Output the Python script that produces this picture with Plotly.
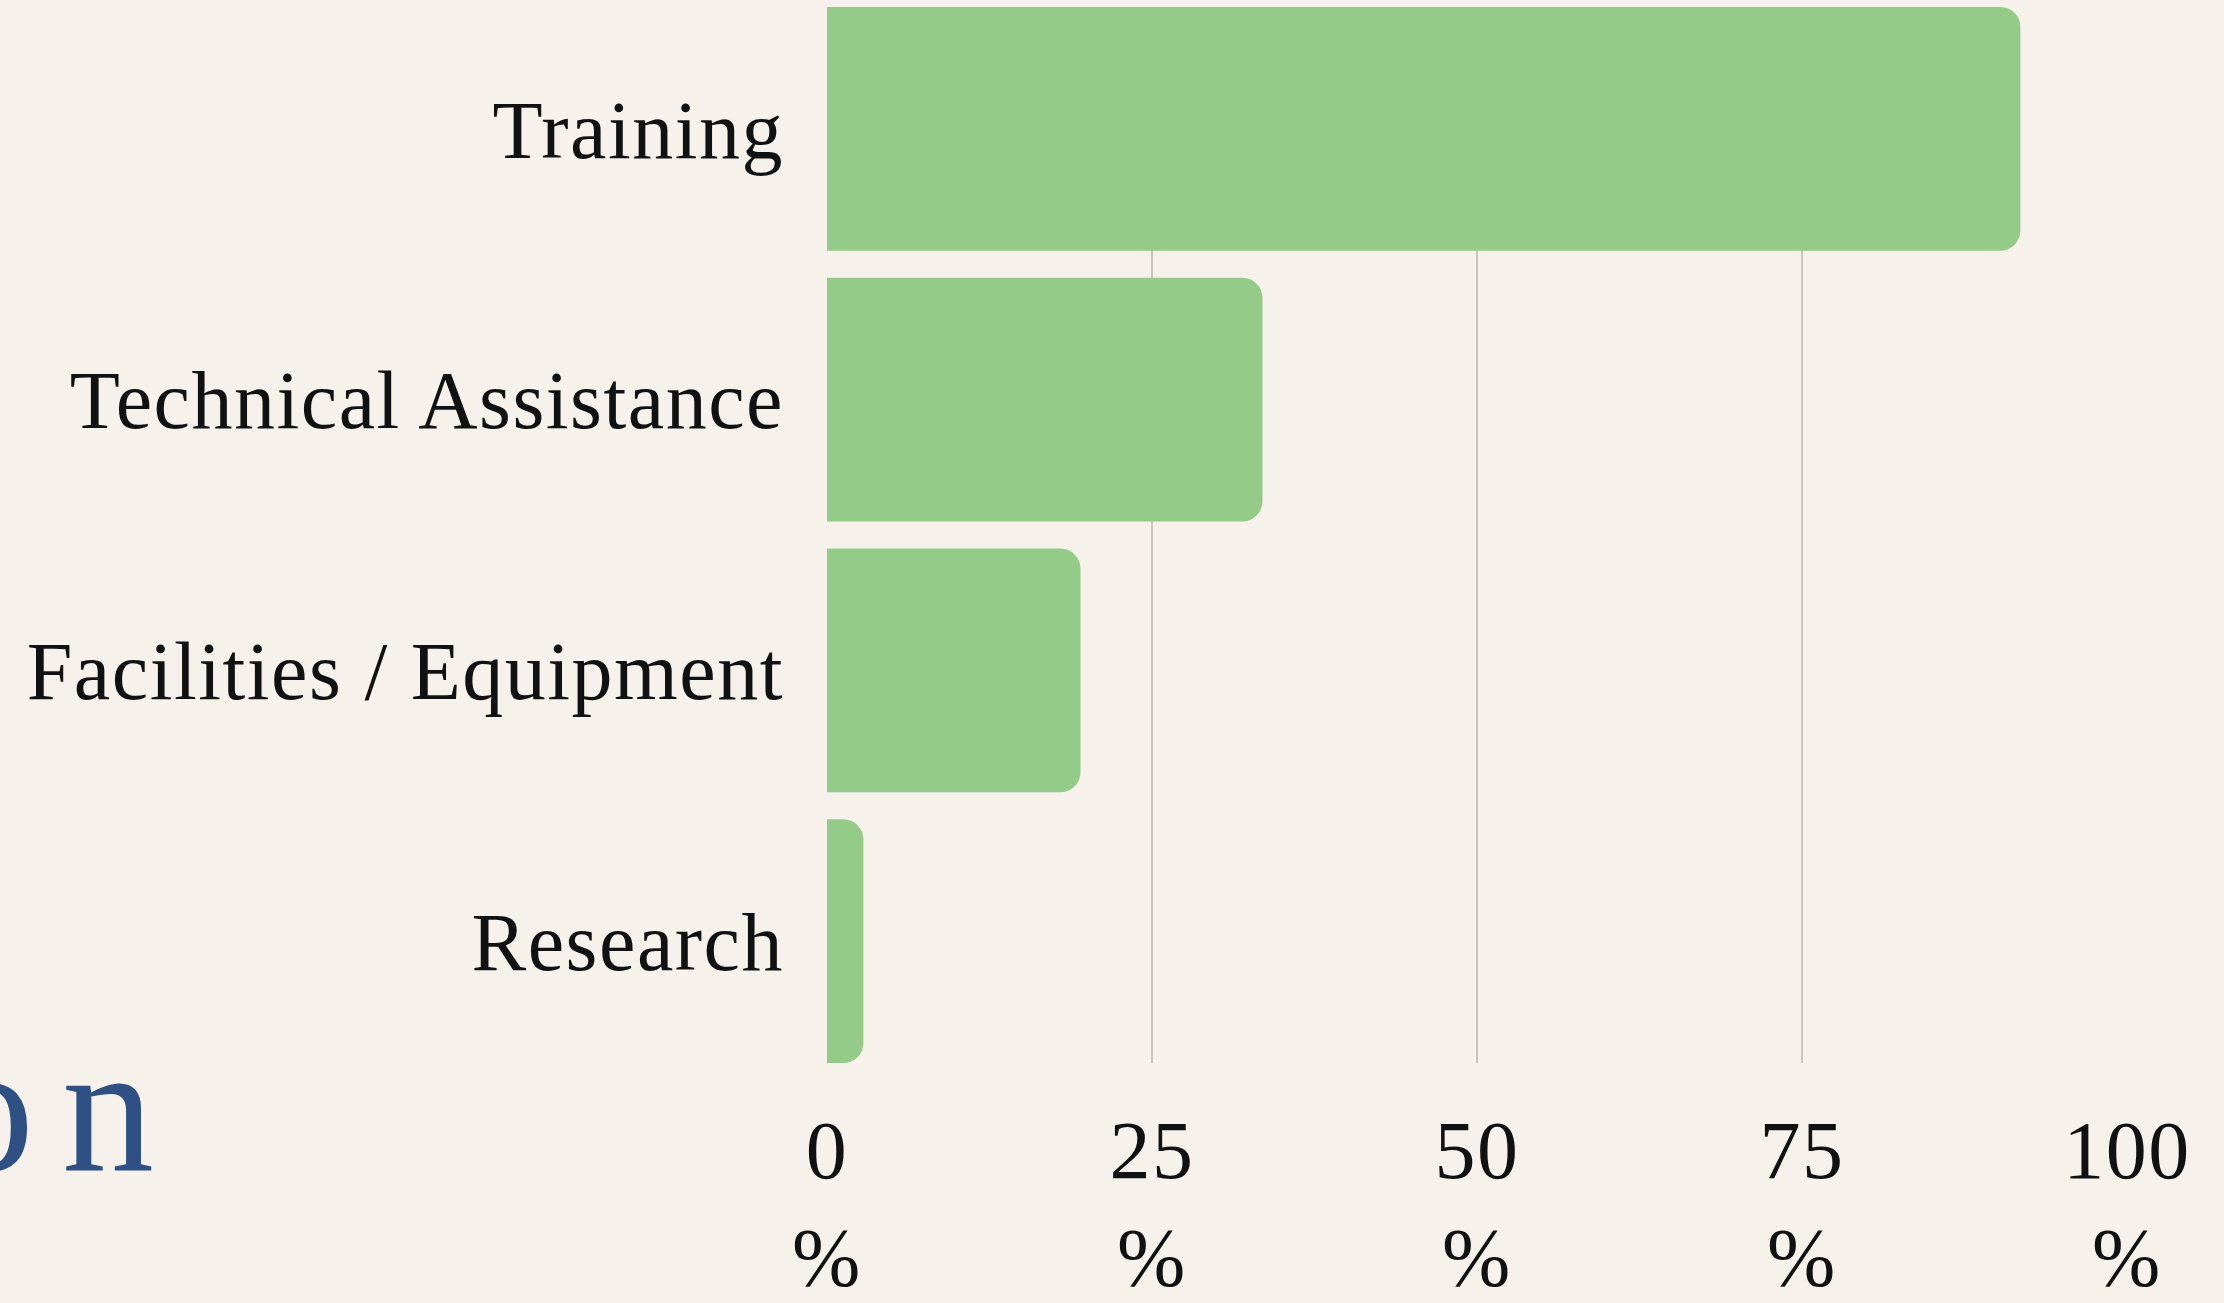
import plotly.graph_objects as go

categories = ["Training", "Technical Assistance", "Facilities / Equipment", "Research"]
values = [91.8, 33.5, 19.5, 2.8]
tick_vals = [0, 25, 50, 75, 100]
tick_text = ["0<br>%", "25<br>%", "50<br>%", "75<br>%", "100<br>%"]
title_text = "on"

W, H = 2224, 1303
L, R, T, B = 827, 97, 7, 240
plot_w = W - L - R
plot_h = H - T - B

def px_to_paper_x(px):
    return (px - L) / plot_w

def px_to_paper_y(py):
    return (H - B - py) / plot_h

fig = go.Figure(
    go.Bar(
        x=values,
        y=categories,
        orientation="h",
        marker=dict(color="#94cb88", cornerradius=20, line=dict(width=0)),
        width=0.9,
        hoverinfo="skip",
    )
)

fig.update_layout(
    width=W,
    height=H,
    margin=dict(l=L, r=R, t=T, b=B, autoexpand=False),
    paper_bgcolor="#f6f2eb",
    plot_bgcolor="#f6f2eb",
    font=dict(family="Liberation Serif, Times New Roman, serif", size=82, color="#111111"),
    showlegend=False,
    bargap=0.1,
    xaxis=dict(
        range=[0, 100],
        tickmode="array",
        tickvals=tick_vals,
        ticktext=tick_text,
        showgrid=True,
        gridcolor="#c9c5bd",
        gridwidth=1.5,
        zeroline=False,
        showline=False,
        ticks="",
        ticklabelstandoff=32,
        automargin=False,
        fixedrange=True,
    ),
    yaxis=dict(
        categoryorder="array",
        categoryarray=categories[::-1],
        range=[-0.45, 3.45],
        showgrid=False,
        zeroline=False,
        showline=False,
        ticks="",
        ticklabelstandoff=42,
        automargin=False,
        fixedrange=True,
    ),
    annotations=[
        dict(
            text=title_text,
            xref="paper",
            yref="paper",
            x=px_to_paper_x(156),
            y=px_to_paper_y(1108),
            xanchor="right",
            yanchor="middle",
            showarrow=False,
            font=dict(family="Liberation Serif, Times New Roman, serif", size=184, color="#2e5085"),
        )
    ],
)

post = (
    "document.body.style.margin='0';"
    "document.body.style.background='#f6f2eb';"
    "document.body.style.overflow='hidden';"
    "var s=document.createElement('style');"
    "s.textContent='.xtick text,.ytick text{letter-spacing:1.5px} .annotation-text{letter-spacing:28px}';"
    "document.head.appendChild(s);"
)

fig.write_html("out.html", post_script=post, config={"displayModeBar": False})
